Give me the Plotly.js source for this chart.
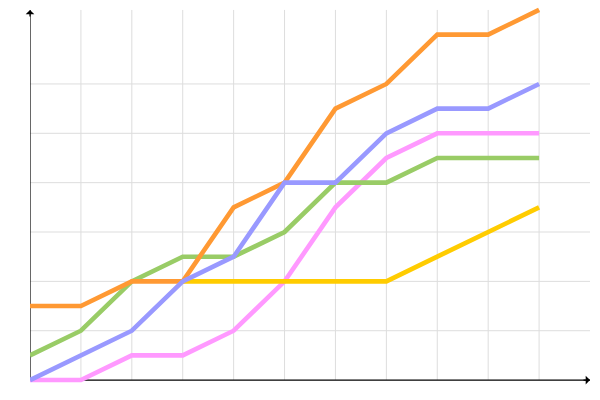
<!DOCTYPE html>
<html>
<head>
<meta charset="utf-8">
<script src="https://cdn.plot.ly/plotly-3.0.1.min.js"></script>
<style>html,body{margin:0;padding:0;background:#fff;}#chart{width:600px;height:400px;}</style>
</head>
<body>
<div id="chart"></div>
<script>
var xs = [0, 1, 2, 3, 4, 5, 6, 7, 8, 9, 10];
var orange = [1.5, 1.5, 2, 2, 3.5, 4, 5.5, 6, 7, 7, 7.5];
var blue = [0, 0.5, 1, 2, 2.5, 4, 4, 5, 5.5, 5.5, 6];
var pink = [0, 0, 0.5, 0.5, 1, 2, 3.5, 4.5, 5, 5, 5];
var green = [0.5, 1, 2, 2.5, 2.5, 3, 4, 4, 4.5, 4.5, 4.5];
var yellow = [null, null, null, 2, 2, 2, 2, 2, 2.5, 3, 3.5];
var xTicks = [1, 2, 3, 4, 5, 6, 7, 8, 9, 10];
var yTicks = [1, 2, 3, 4, 5, 6];
var xMax = 11, yMax = 7.5;

function line(y, color) {
  return {x: xs, y: y, type: 'scatter', mode: 'lines', hoverinfo: 'none',
          line: {color: color, width: 4.6}, connectgaps: false};
}
var data = [
  line(pink, '#FF99FF'),
  line(yellow, '#FFCC00'),
  line(green, '#99CC66'),
  line(orange, '#FF9933'),
  line(blue, '#9999FF')
];
var grid = {color: '#dddddd', width: 1};
var shapes = [];
xTicks.forEach(function (t) {
  shapes.push({type: 'line', xref: 'x', yref: 'y', x0: t, x1: t, y0: 0, y1: yMax, line: grid, layer: 'below'});
});
yTicks.forEach(function (t) {
  shapes.push({type: 'line', xref: 'x', yref: 'y', x0: 0, x1: xMax, y0: t, y1: t, line: grid, layer: 'below'});
});
shapes.push({type: 'line', xref: 'x', yref: 'y', x0: 0, x1: xMax, y0: 0, y1: 0, line: {color: '#000', width: 1.2}, layer: 'below'});
shapes.push({type: 'line', xref: 'x', yref: 'y', x0: 0, x1: 0, y0: 0, y1: yMax, line: {color: '#000', width: 1.2}, layer: 'below'});

var layout = {
  width: 600, height: 400,
  margin: {l: 30, r: 10, t: 5, b: 15},
  paper_bgcolor: '#fff', plot_bgcolor: '#fff',
  showlegend: false,
  xaxis: {range: [0, xMax], showticklabels: false, ticks: '',
          showgrid: false, zeroline: false, showline: false, fixedrange: true},
  yaxis: {range: [-0.1, yMax + 0.1], showticklabels: false, ticks: '',
          showgrid: false, zeroline: false, showline: false, fixedrange: true},
  shapes: shapes,
  annotations: [
    {x: 0, y: yMax, xref: 'x', yref: 'y', text: '', showarrow: true, ax: 0, ay: 8,
     arrowhead: 1, arrowsize: 1.2, arrowwidth: 1.2, arrowcolor: '#000'},
    {x: xMax, y: 0, xref: 'x', yref: 'y', text: '', showarrow: true, ax: -8, ay: 0,
     arrowhead: 1, arrowsize: 1.2, arrowwidth: 1.2, arrowcolor: '#000'}
  ]
};
Plotly.newPlot('chart', data, layout, {displayModeBar: false, staticPlot: true});
</script>
</body>
</html>
